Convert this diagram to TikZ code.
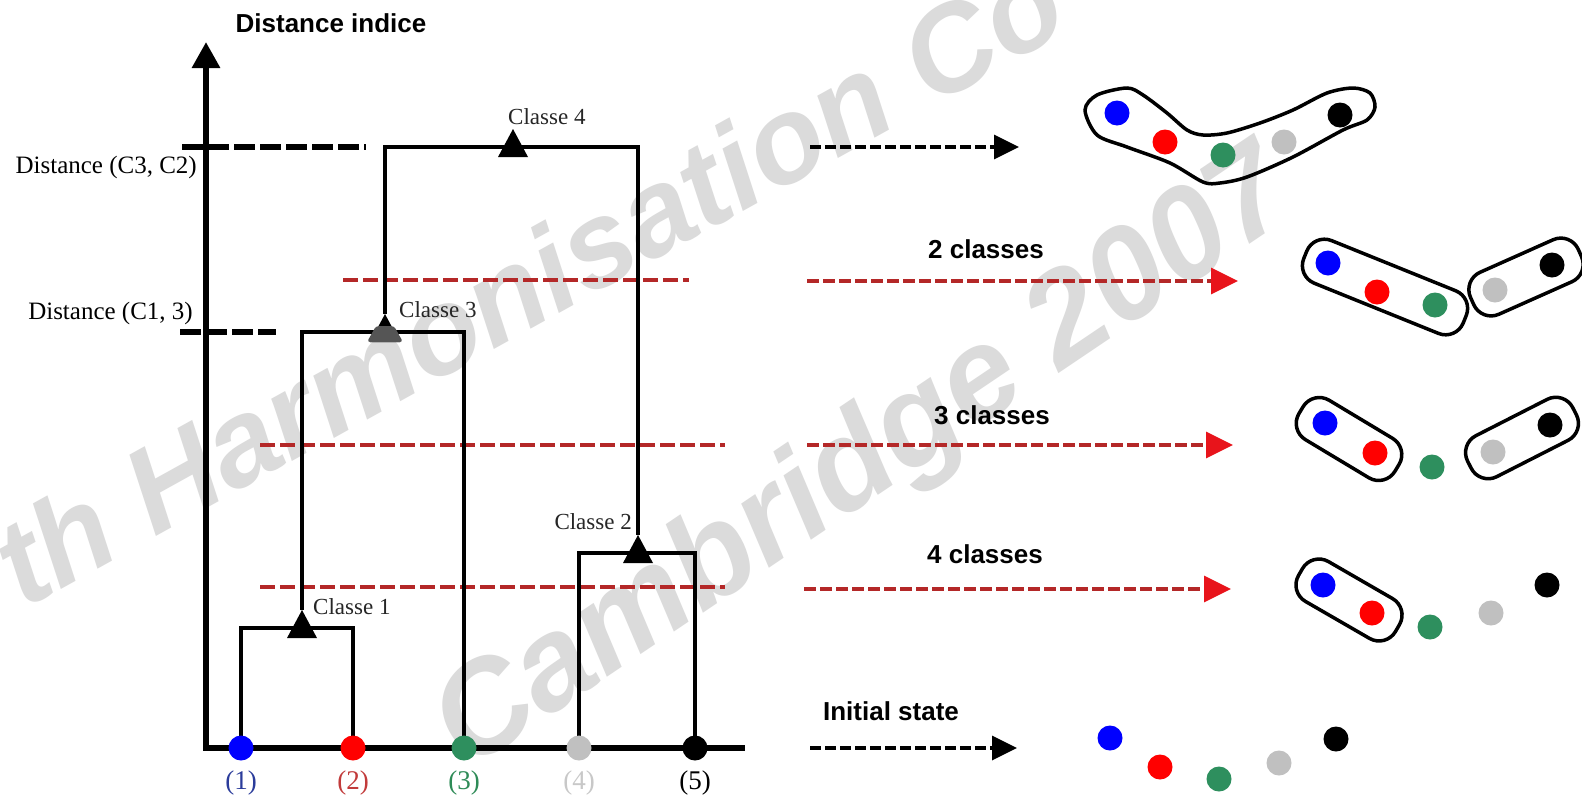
\documentclass[tikz,border=0pt]{standalone}
\usepackage{fontspec}
\setmainfont{Liberation Serif}
\newfontfamily\lsans{Liberation Sans}
\usetikzlibrary{arrows.meta}
\definecolor{cblue}{HTML}{0000FF}
\definecolor{cred}{HTML}{FF0000}
\definecolor{cgreen}{HTML}{2E8F5E}
\definecolor{cgray}{HTML}{C0C0C0}
\definecolor{cutred}{HTML}{B42828}
\definecolor{headred}{HTML}{E8141B}
\definecolor{cdgray}{HTML}{555555}
\definecolor{lblue}{HTML}{2B3C9B}
\definecolor{lred}{HTML}{C23B3B}
\definecolor{lgreen}{HTML}{2E8B57}
\definecolor{lgray}{HTML}{C8C8C8}
\newcommand{\mytri}[1]{\fill ([shift={(0,-18)}]#1) -- ([shift={(-15,10)}]#1) -- ([shift={(15,10)}]#1) -- cycle;}
\newcommand{\mycaps}[5]{\draw[caps, rotate around={#4:(#1,#2)}] ({#1-#3/2},{#2-#5/2}) rectangle ({#1+#3/2},{#2+#5/2});}
\begin{document}
\begin{tikzpicture}[x=1pt,y=-1pt,
  axis/.style={line width=6pt},
  br/.style={line width=4pt},
  tickline/.style={line width=5.5pt, dash pattern=on 21pt off 5pt},
  cut/.style={line width=3.6pt, draw=cutred, dash pattern=on 15pt off 5pt},
  leaf/.style={circle, minimum size=25pt, inner sep=0pt},
  dot/.style={circle, minimum size=25pt, inner sep=0pt},
  serlab/.style={font=\fontsize{25}{28}\selectfont, inner sep=0pt},
  clab/.style={font=\fontsize{23}{26}\selectfont, inner sep=0pt, text=black!85},
  slab/.style={font=\lsans\bfseries\fontsize{26}{30}\selectfont, inner sep=0pt},
  wm/.style={font=\lsans\bfseries\itshape\fontsize{122}{128}\selectfont, inner sep=0pt, text=black!14},
  blackarr/.style={line width=3.5pt, dash pattern=on 11pt off 4pt, -{Triangle[width=24pt,length=25pt]}},
  redarr/.style={line width=3.5pt, draw=cutred, dash pattern=on 12pt off 4pt, -{Triangle[width=26pt,length=27pt,color=headred]}},
  caps/.style={line width=3.5pt, rounded corners=19pt},
]
\useasboundingbox (0,0) rectangle (1582,801);
\clip (0,0) rectangle (1582,801);
\fill[white] (0,0) rectangle (1582,801);

% watermark
\node[wm, rotate=29, anchor=base west] (wm1) at (24,610) {th Harmonisation Co};
\node[wm, font=\lsans\bfseries\itshape\fontsize{130}{134}\selectfont, rotate=34, anchor=base west] (wm2) at (468,772) {Cambridge 2007};

% axes
\coordinate (yt) at (206,42);
\coordinate (o) at (206,748);
\coordinate (xe) at (745,748);
\draw[axis, {Triangle[width=27pt,length=26pt]}-] (yt) -- (o) -- (xe);
\node[slab] (ylab) at (331,23) {Distance indice};

% distance ticks
\coordinate (k1s) at (182,147); \coordinate (k1e) at (366,147);
\coordinate (k2s) at (180,332); \coordinate (k2e) at (276,332);
\draw[tickline] (k1s) -- (k1e);
\draw[tickline] (k2s) -- (k2e);
\node[serlab, anchor=east] (d1) at (197,167) {Distance (C3, C2)};
\node[serlab, anchor=east] (d2) at (193,313) {Distance (C1, 3)};

% leaf positions
\coordinate (p1) at (241,748);
\coordinate (p2) at (353,748);
\coordinate (p3) at (464,748);
\coordinate (p4) at (579,748);
\coordinate (p5) at (695,748);

% class centres and triangle tips
\coordinate (c1) at (302,628); \coordinate (t1) at (302,610);
\coordinate (c2) at (638,553); \coordinate (t2) at (638,535);
\coordinate (c3) at (385,332); \coordinate (t3) at (385,314);
\coordinate (c4) at (513,147); \coordinate (t4) at (513,129);

% red cut lines
\coordinate (r1s) at (343,280); \coordinate (r1e) at (689,280);
\coordinate (r2s) at (260,445); \coordinate (r2e) at (725,445);
\coordinate (r3s) at (260,587); \coordinate (r3e) at (725,587);
\draw[cut] (r1s) -- (r1e);
\draw[cut] (r2s) -- (r2e);
\draw[cut] (r3s) -- (r3e);

% dendrogram brackets
\draw[br] (p1) |- (c1) -| (p2);
\draw[br] (p4) |- (c2) -| (p5);
\draw[br] (t1) |- (c3) -| (p3);
\draw[br] (t3) |- (c4) -| (t2);

% triangles
\mytri{c1}
\mytri{c2}
\mytri{c3}
\fill[cdgray, rounded corners=3pt] ([shift={(-9,-6)}]c3) -- ([shift={(9,-6)}]c3) -- ([shift={(18,10)}]c3) -- ([shift={(-18,10)}]c3) -- cycle;
\mytri{c4}

\node[clab, anchor=west] (cl1) at (313,607) {Classe 1};
\node[clab, anchor=east] (cl2) at (632,522) {Classe 2};
\node[clab, anchor=west] (cl3) at (399,310) {Classe 3};
\node[clab, anchor=west] (cl4) at (508,117) {Classe 4};

% leaves
\node[leaf, fill=cblue] (l1) at (p1) {};
\node[leaf, fill=cred] (l2) at (p2) {};
\node[leaf, fill=cgreen] (l3) at (p3) {};
\node[leaf, fill=cgray] (l4) at (p4) {};
\node[leaf, fill=black] (l5) at (p5) {};
\node[serlab, font=\fontsize{27}{30}\selectfont, text=lblue] (n1) at (241,783) {(1)};
\node[serlab, font=\fontsize{27}{30}\selectfont, text=lred] (n2) at (353,783) {(2)};
\node[serlab, font=\fontsize{27}{30}\selectfont, text=lgreen] (n3) at (464,783) {(3)};
\node[serlab, font=\fontsize{27}{30}\selectfont, text=lgray] (n4) at (579,783) {(4)};
\node[serlab, font=\fontsize{27}{30}\selectfont, text=black] (n5) at (695,783) {(5)};

% right arrows
\coordinate (s4) at (810,147); \coordinate (e4) at (1019,147);
\coordinate (s2) at (807,281); \coordinate (e2) at (1238,281);
\coordinate (s3) at (807,445); \coordinate (e3) at (1233,445);
\coordinate (s1) at (804,589); \coordinate (e1) at (1231,589);
\coordinate (s0) at (810,748); \coordinate (e0) at (1017,748);
\draw[blackarr] (s4) -- (e4);
\draw[redarr] (s2) -- (e2);
\draw[redarr] (s3) -- (e3);
\draw[redarr] (s1) -- (e1);
\draw[blackarr] (s0) -- (e0);
\node[slab] (a2) at (986,249) {2 classes};
\node[slab] (a3) at (992,415) {3 classes};
\node[slab] (a4) at (985,554) {4 classes};
\node[slab] (a0) at (891,711) {Initial state};

% groups: one class
\draw[line width=3.5pt] plot[smooth cycle, tension=0.5] coordinates {(1085,110) (1097,95) (1127,88) (1143,95) (1167,113) (1187,130) (1203,135) (1227,133) (1260,123) (1293,110) (1327,93) (1353,88) (1370,93) (1375,107) (1367,120) (1343,130) (1293,157) (1247,177) (1220,183) (1203,182) (1170,163) (1127,147) (1097,135)};
\foreach \n/\x/\y/\c in {b/1117/113/cblue, r/1165/142/cred, g/1223/155/cgreen, y/1284/142/cgray, k/1340/115/black}
  \node[dot, fill=\c] (g1\n) at (\x,\y) {};

% two classes
\mycaps{1385}{287}{172}{-22}{46}
\mycaps{1526}{277}{118}{24}{46}
\foreach \n/\x/\y/\c in {b/1328/263/cblue, r/1377/292/cred, g/1435/305/cgreen, y/1495/290/cgray, k/1552/265/black}
  \node[dot, fill=\c] (g2\n) at (\x,\y) {};

% three classes
\mycaps{1349}{439}{112}{-31}{46}
\mycaps{1522}{438}{118}{27}{46}
\foreach \n/\x/\y/\c in {b/1325/423/cblue, r/1375/453/cred, g/1432/467/cgreen, y/1493/452/cgray, k/1550/425/black}
  \node[dot, fill=\c] (g3\n) at (\x,\y) {};

% four classes
\mycaps{1349}{600}{112}{-30}{46}
\foreach \n/\x/\y/\c in {b/1323/585/cblue, r/1372/613/cred, g/1430/627/cgreen, y/1491/613/cgray, k/1547/585/black}
  \node[dot, fill=\c] (g4\n) at (\x,\y) {};

% initial state
\foreach \n/\x/\y/\c in {b/1110/738/cblue, r/1160/767/cred, g/1219/779/cgreen, y/1279/763/cgray, k/1336/739/black}
  \node[dot, fill=\c] (g5\n) at (\x,\y) {};
\end{tikzpicture}
\end{document}
